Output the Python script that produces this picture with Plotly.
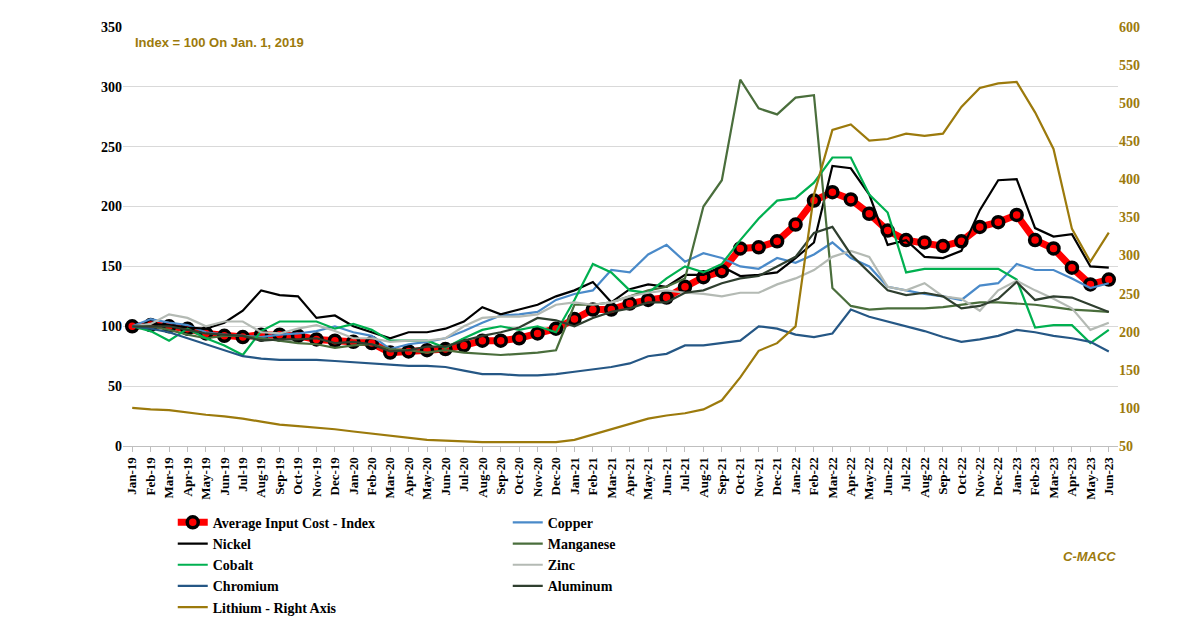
import plotly.graph_objects as go

months = ['Jan', 'Feb', 'Mar', 'Apr', 'May', 'Jun', 'Jul', 'Aug', 'Sep', 'Oct', 'Nov', 'Dec']
dates = [f'{m}-{y}' for y in ['19', '20', '21', '22', '23'] for m in months][:54]

average = [100, 101, 100, 98, 94, 92, 91, 93, 93, 92, 89, 88,
           87, 86, 78, 79, 80, 81, 84, 88, 88, 90, 94, 98,
           106, 114, 114, 119, 122, 124, 133, 141, 146, 165, 166, 171,
           185, 205, 212, 206, 194, 180, 172, 170, 167, 171, 183, 187,
           193, 172, 165, 149, 135, 139]
copper = [100, 106, 103, 101, 95, 93, 92, 91, 93, 94, 96, 100,
          95, 92, 81, 85, 87, 90, 96, 103, 109, 110, 112, 122,
          127, 130, 147, 145, 160, 168, 154, 161, 157, 150, 148, 157,
          153, 160, 170, 157, 150, 133, 130, 127, 125, 122, 134, 136,
          152, 147, 147, 140, 132, 136]
nickel = [100, 102, 101, 99, 98, 103, 113, 130, 126, 125, 107, 109,
          100, 95, 90, 95, 95, 98, 104, 116, 110, 114, 118, 125,
          130, 137, 120, 131, 135, 133, 143, 143, 150, 142, 143, 145,
          157, 170, 234, 232, 210, 168, 172, 158, 157, 163, 197, 222,
          223, 182, 175, 177, 150, 149]
manganese = [100, 100, 97, 93, 90, 92, 92, 90, 88, 86, 85, 82,
             84, 85, 81, 80, 78, 80, 78, 77, 76, 77, 78, 80,
             118, 118, 120, 125, 130, 133, 140, 200, 222, 306, 282, 277,
             291, 293, 132, 117, 114, 115, 115, 115, 116, 118, 120, 120,
             119, 118, 116, 114, 113, 112]
cobalt = [100, 96, 88, 98, 90, 84, 76, 96, 104, 104, 104, 98,
          102, 97, 88, 88, 88, 82, 90, 97, 100, 97, 100, 95,
          122, 152, 145, 130, 128, 140, 150, 145, 152, 172, 190, 205,
          207, 220, 241, 241, 210, 195, 145, 148, 148, 148, 148, 148,
          139, 99, 101, 101, 86, 97]
zinc = [100, 102, 110, 107, 100, 104, 104, 95, 94, 98, 101, 96,
        90, 90, 87, 88, 88, 90, 100, 107, 108, 108, 110, 118,
        120, 118, 120, 125, 128, 130, 128, 127, 125, 128, 128, 135,
        140, 147, 158, 163, 158, 133, 130, 136, 125, 123, 113, 130,
        138, 130, 123, 115, 97, 103]
chromium = [100, 98, 95, 90, 85, 80, 75, 73, 72, 72, 72, 71,
            70, 69, 68, 67, 67, 66, 63, 60, 60, 59, 59, 60,
            62, 64, 66, 69, 75, 77, 84, 84, 86, 88, 100, 98,
            93, 91, 94, 114, 108, 104, 100, 96, 91, 87, 89, 92,
            97, 95, 92, 90, 87, 79]
aluminum = [100, 100, 100, 97, 94, 93, 92, 88, 89, 89, 90, 86,
            87, 85, 79, 80, 83, 83, 88, 92, 95, 99, 107, 105,
            100, 107, 112, 115, 120, 120, 128, 130, 136, 140, 142, 150,
            158, 178, 183, 160, 145, 130, 126, 128, 125, 115, 117, 123,
            137, 122, 125, 124, 118, 112]
lithium = [100, 98, 97, 94, 91, 89, 86, 82, 78, 76, 74, 72,
           69, 66, 63, 60, 58, 57, 56, 55, 55, 55, 55, 55,
           58, 65, 73, 80, 86, 90, 93, 98, 110, 140, 175, 185,
           207, 380, 465, 472, 451, 453, 460, 457, 460, 495, 520, 526,
           528, 488, 440, 335, 292, 330]

font = 'Liberation Serif'
fig = go.Figure()

def add(name, y, color, width=2.2, yaxis='y'):
    fig.add_trace(go.Scatter(x=dates, y=y, name=name, mode='lines', yaxis=yaxis,
                             line=dict(color=color, width=width)))

fig.add_trace(go.Scatter(x=dates, y=average, name='Average Input Cost - Index', mode='lines+markers',
                         line=dict(color='#ff0000', width=7),
                         marker=dict(color='#ff0000', size=11, line=dict(color='black', width=3.5))))
add('Copper', copper, '#4a8ac9')
add('Nickel', nickel, 'black')
add('Manganese', manganese, '#4a6e3c')
add('Cobalt', cobalt, '#00b050')
add('Zinc', zinc, '#b4bab4')
add('Chromium', chromium, '#255785')
add('Aluminum', aluminum, '#2f3f2f')
add('Lithium - Right Axis', lithium, '#9c7a0c', yaxis='y2')

fig.update_layout(
    width=1200, height=627,
    paper_bgcolor='white', plot_bgcolor='white',
    margin=dict(l=115, r=90, t=15, b=130),
    font=dict(family=font, size=14, color='black'),
    xaxis=dict(type='category', tickangle=-90, range=[-0.5, 53.5], showgrid=False,
               showline=True, linecolor='#bfbfbf', ticks='outside', ticklen=5, tickcolor='#bfbfbf',
               tickfont=dict(family=font, size=13, color='black', weight='bold')),
    yaxis=dict(range=[0, 350], dtick=50, showgrid=True, gridcolor='#d9d9d9', zeroline=False,
               tickfont=dict(family=font, size=14, color='black', weight='bold')),
    yaxis2=dict(range=[50, 600], dtick=50, overlaying='y', side='right', showgrid=False,
                tickfont=dict(family=font, size=14, color='#9c7a0c', weight='bold')),
    legend=dict(orientation='h', x=0.05, y=-0.145, xanchor='left', yanchor='top',
                entrywidth=290, entrywidthmode='pixels', traceorder='normal', tracegroupgap=0,
                itemwidth=30,
                font=dict(family=font, size=14, color='black', weight='bold')),
    annotations=[
        dict(text='Index = 100 On Jan. 1, 2019', xref='paper', yref='paper', x=0.01, y=0.985,
             xanchor='left', showarrow=False,
             font=dict(family='Liberation Sans', size=13, color='#9c7a0c', weight='bold')),
        dict(text='<i>C-MACC</i>', xref='paper', yref='paper', x=1.0, y=-0.24, yanchor='top',
             xanchor='right', showarrow=False,
             font=dict(family='Liberation Sans', size=13, color='#9c7a0c', weight='bold')),
    ],
)

fig.write_html('out.html')
